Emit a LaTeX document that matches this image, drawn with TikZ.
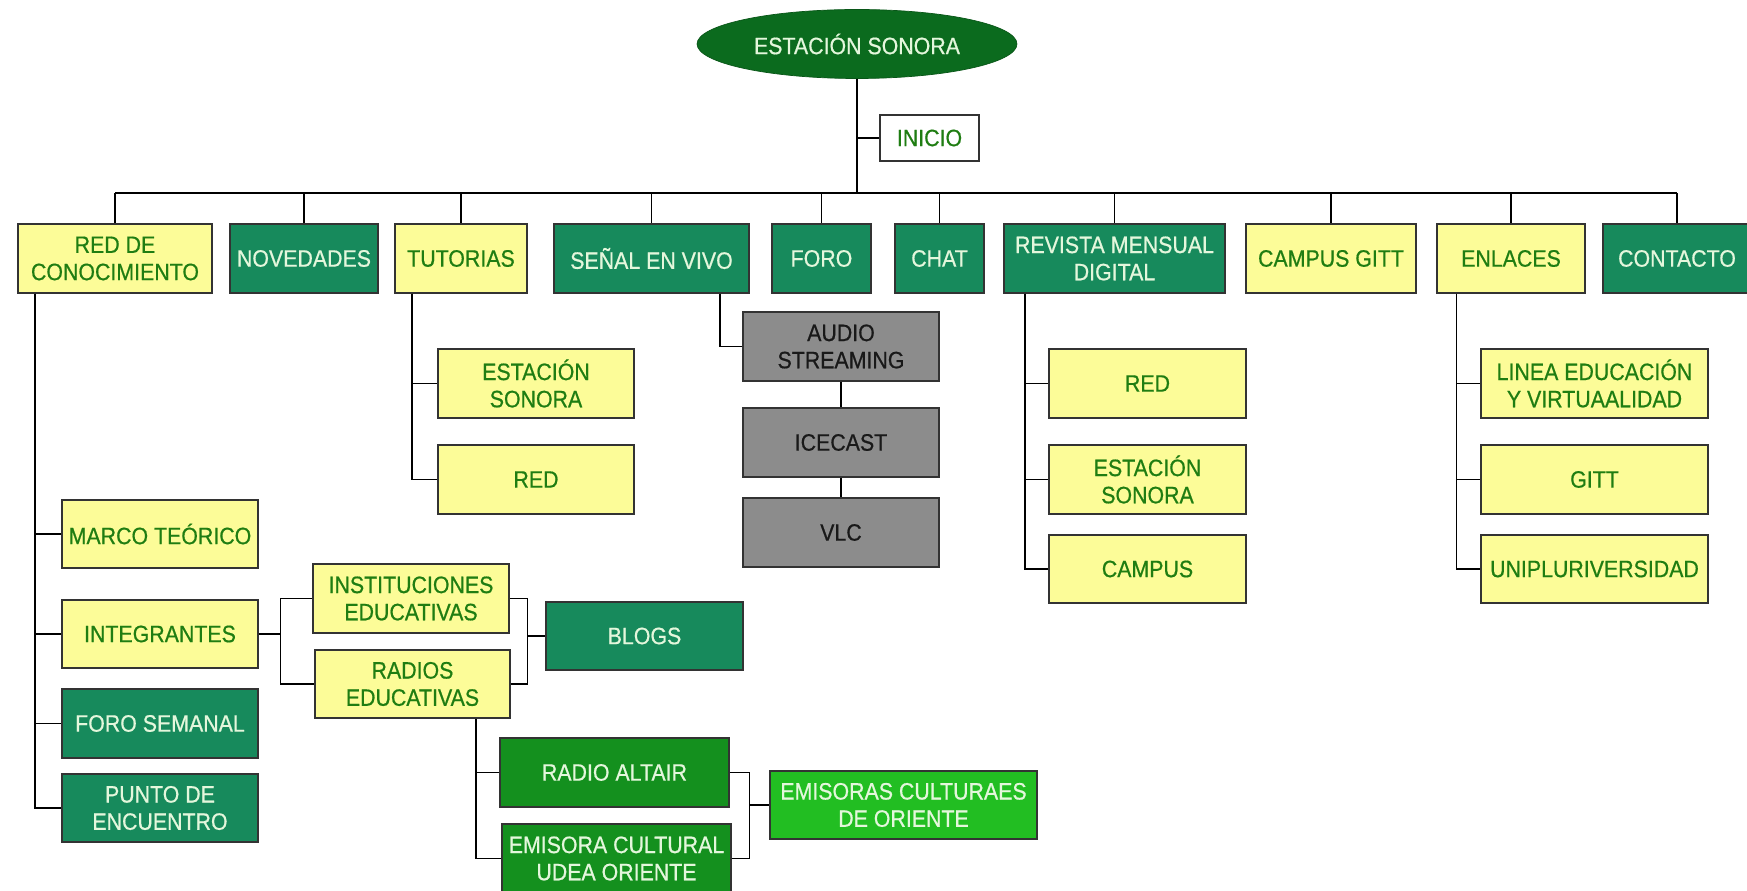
\documentclass[tikz,border=0pt]{standalone}
\usepackage{fontspec}
\setmainfont{Liberation Sans}[FakeStretch=0.9,FakeBold=0.6]
\usetikzlibrary{shapes.geometric}

\definecolor{ybfill}{HTML}{FCFC98}
\definecolor{ybtext}{HTML}{1F7D12}
\definecolor{tealfill}{HTML}{178A5C}
\definecolor{rootfill}{HTML}{0B6B1E}
\definecolor{radiofill}{HTML}{14901E}
\definecolor{brightfill}{HTML}{22BE22}
\definecolor{paletext}{HTML}{E4F7DC}
\definecolor{grayfill}{HTML}{8C8C8C}

\begin{document}
\begin{tikzpicture}[x=0.02cm,y=-0.02cm]

\tikzset{box/.style = {draw=black!80, line width=0.9pt, inner sep=1pt, align=center,
  minimum height=1.37cm, font=\fontsize{13.5}{15.5}\selectfont}}
\tikzset{ybox/.style = {box, fill=ybfill, text=ybtext}}
\tikzset{gbox/.style = {box, fill=tealfill, text=paletext}}
\tikzset{rbox/.style = {box, fill=radiofill, text=paletext}}
\tikzset{bbox/.style = {box, fill=brightfill, text=paletext}}
\tikzset{sbox/.style = {box, fill=grayfill, text=black!90}}
\tikzset{wbox/.style = {box, fill=white, text=ybtext}}
\tikzset{root/.style = {ellipse, draw=rootfill!80!black, fill=rootfill, text=paletext,
  inner sep=0pt, minimum width=6.4cm, minimum height=1.38cm, font=\fontsize{13.5}{15.5}\selectfont}}
\tikzset{link/.style = {draw=black, line width=0.8pt}}

\useasboundingbox (0,0) rectangle (1747,891);

% root
\node[root] (top) at (857,44) {ESTACIÓN SONORA};
\node[wbox, minimum width=1.98cm, minimum height=0.92cm] (inicio) at (929.5,138) {INICIO};
\coordinate (bus) at (857,193);

% first level
\node[ybox, minimum width=3.88cm] (red) at (115,258.5) {RED DE\\CONOCIMIENTO};
\node[gbox, minimum width=2.96cm] (novedades) at (304,258.5) {NOVEDADES};
\node[ybox, minimum width=2.64cm] (tutorias) at (461,258.5) {TUTORIAS};
\node[gbox, minimum width=3.90cm] (senal) at (651.5,258.5) {SEÑAL EN VIVO};
\node[gbox, minimum width=1.98cm] (foro) at (821.5,258.5) {FORO};
\node[gbox, minimum width=1.78cm] (chat) at (939.5,258.5) {CHAT};
\node[gbox, minimum width=4.42cm] (revista) at (1114.5,258.5) {REVISTA MENSUAL\\DIGITAL};
\node[ybox, minimum width=3.40cm] (campus) at (1331,258.5) {CAMPUS GITT};
\node[ybox, minimum width=2.96cm] (enlaces) at (1511,258.5) {ENLACES};
\node[gbox, minimum width=2.96cm] (contacto) at (1677,258.5) {CONTACTO};

% red de conocimiento
\node[ybox, minimum width=3.92cm] (marco) at (160,534) {MARCO TEÓRICO};
\node[ybox, minimum width=3.92cm] (integrantes) at (160,634) {INTEGRANTES};
\node[gbox, minimum width=3.92cm] (semanal) at (160,723.5) {FORO SEMANAL};
\node[gbox, minimum width=3.92cm] (punto) at (160,808) {PUNTO DE\\ENCUENTRO};
\node[ybox, minimum width=3.92cm] (instituciones) at (411,598.5) {INSTITUCIONES\\EDUCATIVAS};
\node[ybox, minimum width=3.90cm] (radios) at (412.5,684) {RADIOS\\EDUCATIVAS};
\node[gbox, minimum width=3.94cm] (blogs) at (644.5,636) {BLOGS};
\node[rbox, minimum width=4.58cm] (altair) at (614.5,772.5) {RADIO ALTAIR};
\node[rbox, minimum width=4.58cm] (udea) at (616.5,858.5) {EMISORA CULTURAL\\UDEA ORIENTE};
\node[bbox, minimum width=5.34cm] (emisoras) at (903.5,805) {EMISORAS CULTURAES\\DE ORIENTE};

% tutorias
\node[ybox, minimum width=3.92cm] (tutestacion) at (536,383.5) {ESTACIÓN\\SONORA};
\node[ybox, minimum width=3.92cm] (tutred) at (536,479.5) {RED};

% senal en vivo
\node[sbox, minimum width=3.92cm] (audio) at (841,346.5) {AUDIO\\STREAMING};
\node[sbox, minimum width=3.92cm] (icecast) at (841,442.5) {ICECAST};
\node[sbox, minimum width=3.92cm] (vlc) at (841,532.5) {VLC};

% revista
\node[ybox, minimum width=3.94cm] (revred) at (1147.5,383.5) {RED};
\node[ybox, minimum width=3.94cm] (revestacion) at (1147.5,479.5) {ESTACIÓN\\SONORA};
\node[ybox, minimum width=3.94cm] (revcampus) at (1147.5,569) {CAMPUS};

% enlaces
\node[ybox, minimum width=4.54cm] (linea) at (1594.5,383.5) {LINEA EDUCACIÓN\\Y VIRTUAALIDAD};
\node[ybox, minimum width=4.54cm] (gitt) at (1594.5,479.5) {GITT};
\node[ybox, minimum width=4.54cm] (uni) at (1594.5,569) {UNIPLURIVERSIDAD};

% tree
\draw[link] (top.south) -- (bus);
\draw[link] (top.south |- inicio.west) -- (inicio.west);
\draw[link] (bus -| red.north) -- (bus -| contacto.north);
\foreach \n in {red,novedades,tutorias,senal,foro,chat,revista,campus,enlaces,contacto}
  \draw[link] (bus -| \n.north) -- (\n.north);

% branches
\foreach \n in {marco,integrantes,semanal,punto}
  \draw[link] ([xshift=-1.6cm]red.south) |- (\n.west);
\foreach \n in {tutestacion,tutred}
  \draw[link] ([xshift=-0.98cm]tutorias.south) |- (\n.west);
\foreach \n in {revred,revestacion,revcampus}
  \draw[link] ([xshift=-1.79cm]revista.south) |- (\n.west);
\foreach \n in {linea,gitt,uni}
  \draw[link] ([xshift=-1.09cm]enlaces.south) |- (\n.west);
\draw[link] ([xshift=1.37cm]senal.south) |- (audio.west);
\draw[link] (audio.south) -- (icecast.north);
\draw[link] (icecast.south) -- (vlc.north);
\foreach \n in {instituciones,radios}
  \draw[link] (integrantes.east) -- ++(0.43cm,0) |- (\n.west);
\foreach \n in {instituciones,radios}
  \draw[link] (\n.east) -| ([xshift=-0.36cm]blogs.west) -- (blogs.west);
\foreach \n in {altair,udea}
  \draw[link] ([xshift=1.27cm]radios.south) |- (\n.west);
\foreach \n in {altair,udea}
  \draw[link] (\n.east) -| ([xshift=-0.4cm]emisoras.west) -- (emisoras.west);

\end{tikzpicture}
\end{document}
